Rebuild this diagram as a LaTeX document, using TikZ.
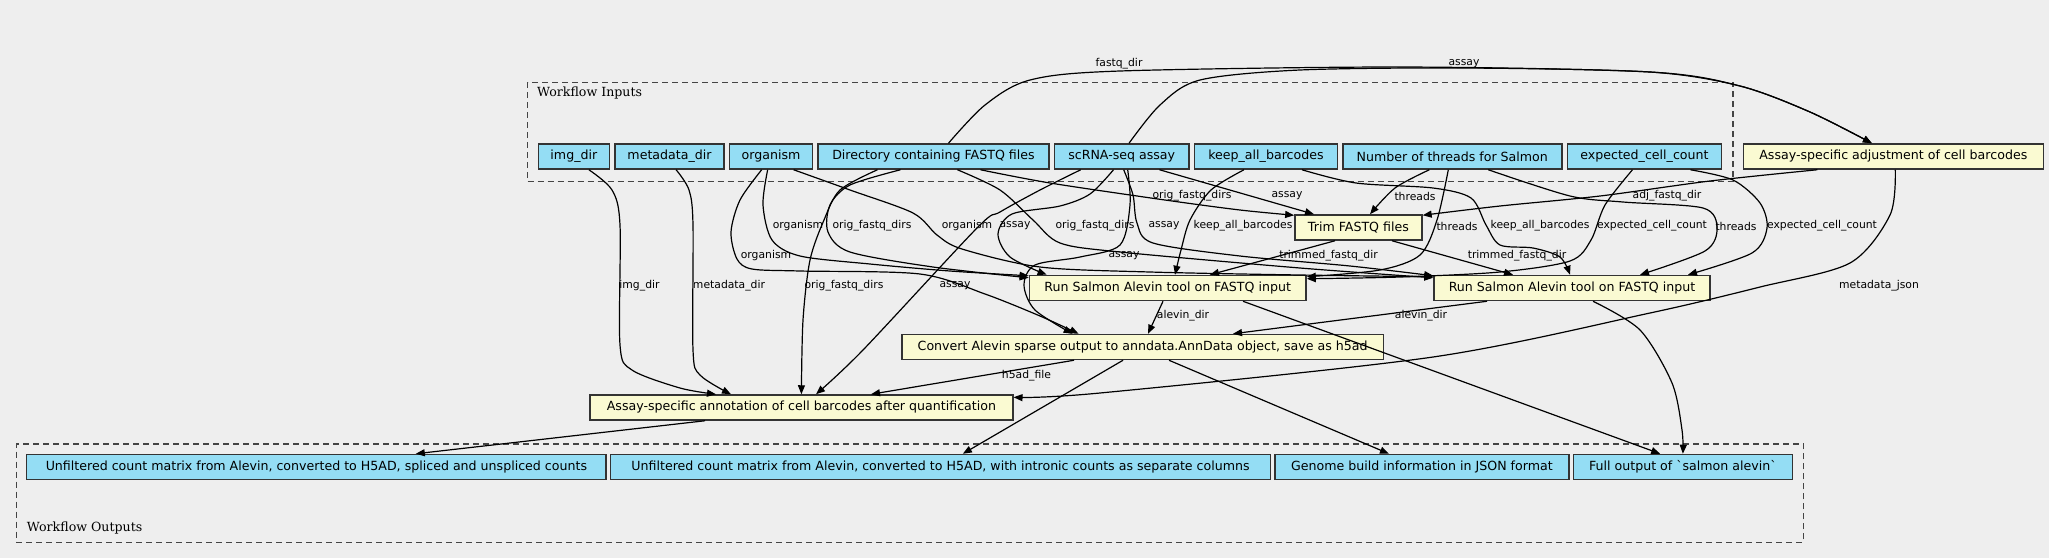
\documentclass[tikz,border=0pt]{standalone}
\usepackage{fontspec}
\setmainfont{DejaVu Sans}
\newfontfamily\clusterserif{DejaVu Serif}
\newfontfamily\rawsans{DejaVu Sans}[Ligatures=TeXOff]
\usetikzlibrary{arrows.meta, positioning}
\definecolor{inblue}{RGB}{148,221,244}
\definecolor{toolyellow}{RGB}{250,250,210}
\definecolor{canvas}{RGB}{238,238,238}
\definecolor{boxline}{RGB}{51,51,51}
\definecolor{dashgray}{RGB}{68,68,68}
\newcommand{\boxfont}{\fontsize{12.6}{15}\selectfont}
\newcommand{\edgefont}{\fontsize{10.8}{13}\selectfont}
\newcommand{\groupfont}{\clusterserif\fontsize{12.6}{15}\selectfont}
\tikzstyle{inbox} = [rectangle, minimum height=25pt, inner xsep=0pt, inner ysep=0pt, text centered, draw=boxline, fill=inblue, line width=1.5pt, font=\boxfont]
\tikzstyle{toolbox} = [rectangle, minimum height=25pt, inner xsep=0pt, inner ysep=0pt, text centered, draw=boxline, fill=toolyellow, line width=1.5pt, font=\boxfont]
\tikzstyle{outbox} = [inbox]
\tikzstyle{cluster} = [rectangle, draw=dashgray, dash pattern=on 6pt off 4pt, line width=1.4pt, anchor=north west, inner sep=0pt]
\tikzstyle{grouptitle} = [font=\groupfont, anchor=west, inner sep=0pt]
\tikzstyle{arrow} = [->, >={Stealth[inset=0pt,length=9pt,width=7pt]}, line width=1.2pt]
\tikzstyle{lbl} = [font=\edgefont, inner sep=0pt]

\begin{document}
\begin{tikzpicture}[x=1pt, y=-1pt]
        \fill[canvas] (0,0) rectangle (2049,558);

        % workflow groups
        \node (inputs) [cluster, minimum width=1205.5pt, minimum height=99pt] at (526.8,81.7) {};
        \node (outputs) [cluster, minimum width=1787pt, minimum height=98.4pt] at (15.6,443.3) {};
        \node (inputsTitle) [grouptitle] at (537,93.5) {Workflow Inputs};
        \node (outputsTitle) [grouptitle] at (26.8,528.3) {Workflow Outputs};

        % inputs
        \node (imgdir) [inbox, minimum width=71.2pt, anchor=west] at (537.5,156.5) {img\_dir};
        \node (metadir) [inbox, minimum width=109.1pt, right=4pt of imgdir] {metadata\_dir};
        \node (organism) [inbox, minimum width=83pt, right=4pt of metadir] {organism};
        \node (fastqdir) [inbox, minimum width=230.8pt, right=4pt of organism] {Directory containing FASTQ files};
        \node (assay) [inbox, minimum width=134.7pt, right=4pt of fastqdir] {scRNA-seq assay};
        \node (keepbc) [inbox, minimum width=142.8pt, right=4pt of assay] {keep\_all\_barcodes};
        \node (threads) [inbox, minimum width=218.9pt, right=4pt of keepbc] {Number of threads for Salmon};
        \node (cellcount) [inbox, minimum width=154.4pt, right=4pt of threads] {expected\_cell\_count};

        % tools
        \node (adjust) [toolbox, minimum width=300pt] at (1893.3,156.5) {Assay-specific adjustment of cell barcodes};
        \node (trim) [toolbox, minimum width=127pt] at (1358.4,227.5) {Trim FASTQ files};
        \node (salmonA) [toolbox, minimum width=276.7pt] at (1167.7,288) {Run Salmon Alevin tool on FASTQ input};
        \node (salmonB) [toolbox, minimum width=276pt] at (1572,288) {Run Salmon Alevin tool on FASTQ input};
        \node (convert) [toolbox, minimum width=481.7pt] at (1142.6,347) {Convert Alevin sparse output to anndata.AnnData object, save as h5ad};
        \node (annotate) [toolbox, minimum width=422.8pt] at (801.4,407.5) {Assay-specific annotation of cell barcodes after quantification};

        % outputs
        \node (outSpliced) [outbox, minimum width=579.5pt, anchor=west] at (25.9,467) {Unfiltered count matrix from Alevin, converted to H5AD, spliced and unspliced counts};
        \node (outIntronic) [outbox, minimum width=659.8pt, right=3pt of outSpliced] {Unfiltered count matrix from Alevin, converted to H5AD, with intronic counts as separate columns};
        \node (outGenome) [outbox, minimum width=294pt, right=3pt of outIntronic] {Genome build information in JSON format};
        \node (outFull) [outbox, minimum width=218.8pt, right=3pt of outGenome] {\rawsans Full output of \char"60 salmon alevin\char"60};

        % edges from the inputs
        \draw [arrow] plot[smooth] coordinates {([xshift=15pt]imgdir.south) (612,190) (620,225) (620,345) (632,370) (680,388) ([xshift=-85.4pt]annotate.north)} node[lbl] at (639.5,286) {img\_dir};
        \draw [arrow] plot[smooth] coordinates {([xshift=6.6pt]metadir.south) (689,190) (693,225) (693,350) (700,375) ([xshift=-70.4pt]annotate.north)} node[lbl] at (729,286) {metadata\_dir};
        \draw [arrow] plot[smooth] coordinates {([xshift=-9.4pt]organism.south) (740,200) (731,232) (737,259) (752,269) (800,271) (920,274) (985,294) (1040,316) ([xshift=-64pt]convert.north)} node[lbl] at (766,256) {organism};
        \draw [arrow] plot[smooth] coordinates {([xshift=-3.4pt]organism.south) (763,205) (772,240) (800,256) (870,264) (950,271) ([yshift=-1pt]salmonA.north west)} node[lbl] at (798,226) {organism};
        \draw [arrow] plot[smooth] coordinates {([xshift=22.6pt]organism.south) (850,190) (913,213) (937,235) (962,249) (1040,267) (1150,272) (1300,275) ([yshift=-2pt]salmonB.north west)} node[lbl] at (967,226) {organism};

        \draw [arrow] plot[smooth] coordinates {([xshift=15pt]fastqdir.north) (985,105) (1030,80) (1120,71) (1400,67) (1650,72) (1740,86) (1810,112) ([xshift=-21.4pt]adjust.north)} node[lbl] at (1119,64) {fastq\_dir};
        \draw [arrow] plot[smooth] coordinates {([xshift=47pt]fastqdir.south) (1050,183) (1165,200) (1240,210) ([yshift=-1pt]trim.north west)} node[lbl] at (1192,196) {orig\_fastq\_dirs};
        \draw [arrow] plot[smooth] coordinates {([xshift=-33pt]fastqdir.south) (850,185) (830,205) (828,232) (850,252) (933,267) ([yshift=-3pt]salmonA.north west)} node[lbl] at (872,226) {orig\_fastq\_dirs};
        \draw [arrow] plot[smooth] coordinates {([xshift=24pt]fastqdir.south) (1000,190) (1033,220) (1060,243) (1120,252) (1300,268) ([yshift=-3pt]salmonB.north west)} node[lbl] at (1095,226) {orig\_fastq\_dirs};
        \draw [arrow] plot[smooth] coordinates {([xshift=-56pt]fastqdir.south) (840,190) (824,220) (810,260) (803,320) (annotate.north)} node[lbl] at (844,286) {orig\_fastq\_dirs};

        \draw [arrow] plot[smooth] coordinates {([xshift=7.3pt]assay.north) (1160,105) (1200,80) (1300,70) (1464,68) (1650,72) (1740,86) (1810,112) ([xshift=-21.4pt]adjust.north)} node[lbl] at (1464,64) {assay};
        \draw [arrow] ([xshift=37.8pt]assay.south) -- ([xshift=-44.4pt]trim.north) node[lbl] at (1287,196) {assay};
        \draw [arrow] plot[smooth] coordinates {([xshift=-8.2pt]assay.south) (1090,194) (1060,206) (1012,214) (998,234) (1010,257) ([xshift=18pt]salmonA.north west)} node[lbl] at (1015,226) {assay};
        \draw [arrow] plot[smooth] coordinates {([xshift=2pt]assay.south) (1133,195) (1137,223) (1153,243) (1240,256) (1350,266) ([yshift=-1pt]salmonB.north west)} node[lbl] at (1164,226) {assay};
        \draw [arrow] plot[smooth] coordinates {([xshift=6pt]assay.south) (1130,205) (1120,245) (1080,257) (1035,265) (1024,285) (1035,310) ([xshift=-70pt]convert.north)} node[lbl] at (1124,256) {assay};
        \draw [arrow] plot[smooth] coordinates {([xshift=-41pt]assay.south) (1040,190) (1000,212) (977,228) (863,350) ([xshift=14.6pt]annotate.north)} node[lbl] at (955,286) {assay};

        \draw [arrow] plot[smooth] coordinates {([xshift=-22pt]keepbc.south) (1211,190) (1190,220) (1181,250) ([xshift=7.3pt]salmonA.north)} node[lbl] at (1243,226) {keep\_all\_barcodes};
        \draw [arrow] plot[smooth] coordinates {([xshift=36pt]keepbc.south) (1356,183) (1433,188) (1471,198) (1486,225) (1500,245) (1533,248) (1560,257) ([xshift=-2pt]salmonB.north)} node[lbl] at (1540,226) {keep\_all\_barcodes};

        \draw [arrow] plot[smooth] coordinates {([xshift=-23pt]threads.south) (1395,188) ([xshift=11.6pt]trim.north)} node[lbl] at (1415,196) {threads};
        \draw [arrow] plot[smooth] coordinates {([xshift=-4pt]threads.south) (1437,220) (1420,255) (1380,270) ([yshift=-2pt]salmonA.north east)} node[lbl] at (1457,226) {threads};
        \draw [arrow] plot[smooth] coordinates {([xshift=36pt]threads.south) (1570,196) (1623,202) (1703,208) (1717,228) (1705,251) ([xshift=68pt]salmonB.north)} node[lbl] at (1736,226) {threads};

        \draw [arrow] plot[smooth] coordinates {([xshift=-12pt]cellcount.south) (1605,205) (1591,240) (1570,261) (1500,272) (1400,277) ([yshift=-4pt]salmonA.north east)} node[lbl] at (1652,226) {expected\_cell\_count};
        \draw [arrow] plot[smooth] coordinates {([xshift=46pt]cellcount.south) (1733,180) (1760,203) (1767,228) (1752,253) ([xshift=116pt]salmonB.north)} node[lbl] at (1822,226) {expected\_cell\_count};

        % edges between the tools
        \draw [arrow] plot[smooth] coordinates {([xshift=-76pt]adjust.south) (1710,181) (1600,196) (1500,206) ([yshift=-1pt]trim.north east)} node[lbl] at (1667,196) {adj\_fastq\_dir};
        \draw [arrow] plot[smooth] coordinates {([xshift=2pt]adjust.south) (1890,215) (1850,263) (1760,287) (1650,313) (1433,357) (1100,393) ([yshift=-3pt]annotate.north east)} node[lbl] at (1879,286) {metadata\_json};
        \draw [arrow] ([xshift=-23.4pt]trim.south) -- ([xshift=42.3pt]salmonA.north) node[lbl] at (1328.5,256) {trimmed\_fastq\_dir};
        \draw [arrow] ([xshift=33.6pt]trim.south) -- ([xshift=-59pt]salmonB.north) node[lbl] at (1517,256) {trimmed\_fastq\_dir};
        \draw [arrow] ([xshift=-4.7pt]salmonA.south) -- ([xshift=5.4pt]convert.north) node[lbl] at (1183,316) {alevin\_dir};
        \draw [arrow] ([xshift=-85pt]salmonB.south) -- ([xshift=90.4pt]convert.north) node[lbl] at (1421,316) {alevin\_dir};
        \draw [arrow] ([xshift=-68.6pt]convert.south) -- ([xshift=69.6pt]annotate.north) node[lbl] at (1026.5,376) {h5ad\_file};

        % edges to the outputs
        \draw [arrow] ([xshift=75.3pt]salmonA.south) -- ([xshift=-22.7pt]outFull.north);
        \draw [arrow] plot[smooth] coordinates {([xshift=21pt]salmonB.south) (1640,330) (1672,383) (1682,430) (outFull.north)};
        \draw [arrow] ([xshift=-19.6pt]convert.south) -- ([xshift=22.3pt]outIntronic.north);
        \draw [arrow] ([xshift=26.4pt]convert.south) -- ([xshift=-33pt]outGenome.north);
        \draw [arrow] ([xshift=-96.4pt]annotate.south) -- ([xshift=99.4pt]outSpliced.north);
\end{tikzpicture}
\end{document}
